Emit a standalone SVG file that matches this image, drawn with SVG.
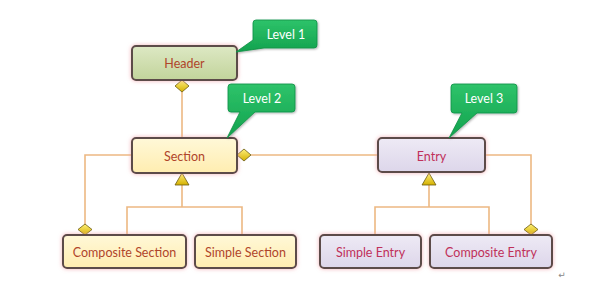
<svg xmlns="http://www.w3.org/2000/svg" width="614" height="286" viewBox="0 0 614 286">
<defs>
<linearGradient id="gHeader" x1="0" y1="0" x2="0" y2="1"><stop offset="0" stop-color="#dde8c4"/><stop offset="1" stop-color="#c2d49b"/></linearGradient>
<linearGradient id="gSection" x1="0" y1="0" x2="0" y2="1"><stop offset="0" stop-color="#fff8d8"/><stop offset="1" stop-color="#ffedb0"/></linearGradient>
<linearGradient id="gEntry" x1="0" y1="0" x2="0" y2="1"><stop offset="0" stop-color="#eeeaf5"/><stop offset="1" stop-color="#ddd6ea"/></linearGradient>
<linearGradient id="gGold" x1="0" y1="0" x2="0" y2="1"><stop offset="0" stop-color="#fff07a"/><stop offset="1" stop-color="#d4b000"/></linearGradient>
<linearGradient id="gCall" x1="0" y1="0" x2="0" y2="1"><stop offset="0" stop-color="#2ec36a"/><stop offset="1" stop-color="#12a24e"/></linearGradient>
<filter id="glow" x="-20%" y="-40%" width="140%" height="180%">
<feDropShadow dx="0" dy="0" stdDeviation="2" flood-color="#f0a0a8" flood-opacity="0.8"/>
</filter>
<filter id="cshadow" x="-20%" y="-30%" width="140%" height="160%">
<feDropShadow dx="1" dy="1" stdDeviation="1" flood-color="#000" flood-opacity="0.3"/>
</filter>
</defs>
<style>
.node rect{stroke:#5b4b48;stroke-width:2;filter:url(#glow)}
.lbl{font-family:Lato,"Open Sans",sans-serif;font-size:12.5px;text-anchor:middle;dominant-baseline:central}
.sec{fill:#b0452a}
.ent{fill:#c0305a}
.call path{fill:url(#gCall);stroke:#0f8f44;stroke-width:0.8;filter:url(#cshadow)}
.call text{fill:#ffffff;font-family:Lato,"Open Sans",sans-serif;font-size:12.5px;text-anchor:middle;dominant-baseline:central}
.conn{fill:none;stroke:#edb882;stroke-width:1.6}
.gold{fill:url(#gGold);stroke:#6b5a10;stroke-width:0.8}
</style>
<rect width="614" height="286" fill="#ffffff"/>
<g id="connectors">
<path class="conn" d="M182 92 V138"/>
<path class="conn" d="M251 155 H378"/>
<path class="conn" d="M132 155 H85 V225"/>
<path class="conn" d="M182 185 V207 M127 235 V207 H242 V235"/>
<path class="conn" d="M485 155 H531 V225"/>
<path class="conn" d="M429 185 V207 M375 235 V207 H489 V235"/>
<path class="gold" d="M182 80 L189 86 L182 92 L175 86 Z"/>
<path class="gold" d="M237 155 L244 149 L251 155 L244 161 Z"/>
<path class="gold" d="M85 224 L92 229.5 L85 235 L78 229.5 Z"/>
<path class="gold" d="M531 224 L538 229.5 L531 235 L524 229.5 Z"/>
<path class="gold" d="M182 173 L189 185 L175 185 Z"/>
<path class="gold" d="M429 173 L436 185 L422 185 Z"/>
</g>
<g id="header" class="node"><rect x="132" y="46" width="105" height="34" rx="4" fill="url(#gHeader)"/><text class="lbl sec" x="184.5" y="63">Header</text></g>
<g id="section" class="node"><rect x="132" y="138" width="105" height="35" rx="4" fill="url(#gSection)"/><text class="lbl sec" x="184.5" y="156">Section</text></g>
<g id="entry" class="node"><rect x="378" y="138" width="107" height="34" rx="4" fill="url(#gEntry)"/><text class="lbl ent" x="431.5" y="156">Entry</text></g>
<g id="composite-section" class="node"><rect x="63" y="235" width="123" height="33" rx="4" fill="url(#gSection)"/><text class="lbl sec" x="124.5" y="252">Composite Section</text></g>
<g id="simple-section" class="node"><rect x="195" y="235" width="101" height="33" rx="4" fill="url(#gSection)"/><text class="lbl sec" x="245.5" y="252">Simple Section</text></g>
<g id="simple-entry" class="node"><rect x="320" y="235" width="101" height="33" rx="4" fill="url(#gEntry)"/><text class="lbl ent" x="370.5" y="252">Simple Entry</text></g>
<g id="composite-entry" class="node"><rect x="430" y="235" width="122" height="33" rx="4" fill="url(#gEntry)"/><text class="lbl ent" x="491" y="252">Composite Entry</text></g>
<g id="level1" class="call"><path d="M256 20 H314 Q317 20 317 23 V45 Q317 48 314 48 H264 L236 52 L253 40 V23 Q253 20 256 20 Z"/><text x="286" y="34">Level 1</text></g>
<g id="level2" class="call"><path d="M231 84 H292 Q295 84 295 87 V109 Q295 112 292 112 H255 L227 138 L240 112 H231 Q228 112 228 109 V87 Q228 84 231 84 Z"/><text x="262" y="98">Level 2</text></g>
<g id="level3" class="call"><path d="M454 84 H514 Q517 84 517 87 V110 Q517 113 514 113 H477 L449 138 L462 113 H454 Q451 113 451 110 V87 Q451 84 454 84 Z"/><text x="484" y="98">Level 3</text></g>
<text x="562" y="278" font-family="DejaVu Sans, sans-serif" font-size="9" fill="#888888" text-anchor="middle">↵</text>
</svg>
